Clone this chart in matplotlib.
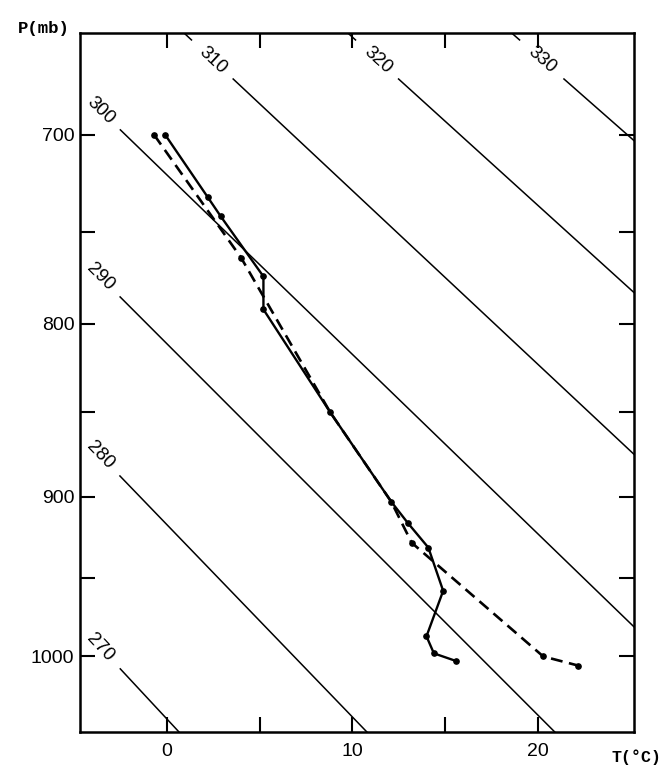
import numpy as np
import matplotlib.pyplot as plt
from matplotlib import font_manager

# Stuve diagram: x = T, y = p**kappa so that dry adiabats are straight
KAPPA = 0.286

# solid sounding (temperature, deg C) and pressure (mb)
t_solid = [-0.1, 2.2, 2.9, 5.2, 5.2, 8.8, 12.1, 13.0, 14.1, 14.9, 14.0, 14.4, 15.6]
p_solid = [700, 732, 742, 774, 792, 850, 903, 916, 931, 958, 987, 998, 1003]

# dashed sounding
t_dash = [-0.7, 4.0, 8.8, 12.1, 13.2, 20.3, 22.2]
p_dash = [700, 764, 850, 903, 928, 1000, 1006]
dash_marks = [0, 1, 4, 5, 6]

# potential temperature lines (K)
theta_left = [270, 280, 290, 300]
theta_top = [310, 320, 330]

x_ticks = [0, 5, 10, 15, 20]
x_labels = ['0', '', '10', '', '20']
p_ticks = [700, 750, 800, 850, 900, 950, 1000]
p_labels = ['700', '', '800', '', '900', '', '1000']

names = {f.name for f in font_manager.fontManager.ttflist}
if 'Liberation Sans Narrow' in names:
    sans, tick_fs, lab_fs = 'Liberation Sans Narrow', 14.5, 13.5
else:
    sans, tick_fs, lab_fs = 'Liberation Sans', 14, 13.5
mono = 'Liberation Mono' if 'Liberation Mono' in names else 'DejaVu Sans Mono'


def yk(p):
    return np.asarray(p, dtype=float) ** KAPPA


def t_of(theta, p):
    return theta * (np.asarray(p, dtype=float) / 1000.0) ** KAPPA - 273.15


fig = plt.figure(figsize=(6.63, 7.68), dpi=100)
ax = fig.add_axes([80/663, 36/768, 554/663, 699/768])
ax.set_xlim(-4.7, 25.2)
ax.set_ylim(yk(1050), yk(650))

# dry adiabats, broken where the label sits
pp = np.linspace(640, 1060, 600)
for th in theta_left + theta_top:
    tt = t_of(th, pp)
    yy = yk(pp)
    if th in theta_top:
        p_lab = 663.0
        t_lab = t_of(th, p_lab)
        gap = (pp > 654) & (pp < 672)
    else:
        t_lab = -3.6
        p_lab = 1000.0 * ((t_lab + 273.15) / th) ** (1 / KAPPA)
        gap = tt < t_lab + 1.05
    tt = np.where(gap, np.nan, tt)
    ax.plot(tt, yy, color='black', lw=1.1)
    a = ax.transData.transform([(t_of(th, 700), yk(700)), (t_of(th, 1000), yk(1000))])
    ang = np.degrees(np.arctan2(a[1, 1] - a[0, 1], a[1, 0] - a[0, 0]))
    ax.text(t_lab, yk(p_lab), str(th), rotation=ang, rotation_mode='anchor',
            ha='center', va='center', fontsize=lab_fs, family=sans)

# soundings
ax.plot(t_solid, yk(p_solid), color='black', lw=1.7, marker='o', ms=3.8)
ax.plot(t_dash, yk(p_dash), color='black', lw=1.9, dashes=(4.5, 2.5),
        marker='o', ms=3.8, markevery=dash_marks)

ax.set_xticks(x_ticks)
ax.set_xticklabels(x_labels, family=sans, fontsize=tick_fs)
ax.set_yticks(yk(p_ticks))
ax.set_yticklabels(p_labels, family=sans, fontsize=tick_fs)
ax.tick_params(direction='in', length=11, width=1.5, top=True, right=True)
ax.tick_params(axis='x', pad=8)
ax.tick_params(axis='y', pad=4)
for s in ax.spines.values():
    s.set_linewidth(1.8)

fig.text(44/663, 1 - 29/768, 'P(mb)', family=mono, fontsize=12.5, weight='bold',
         ha='center', va='center')
fig.text(661/663, 1 - 757/768, 'T(°C)', family=mono, fontsize=12, weight='bold',
         ha='right', va='center')

fig.savefig('out.png', dpi=100)
